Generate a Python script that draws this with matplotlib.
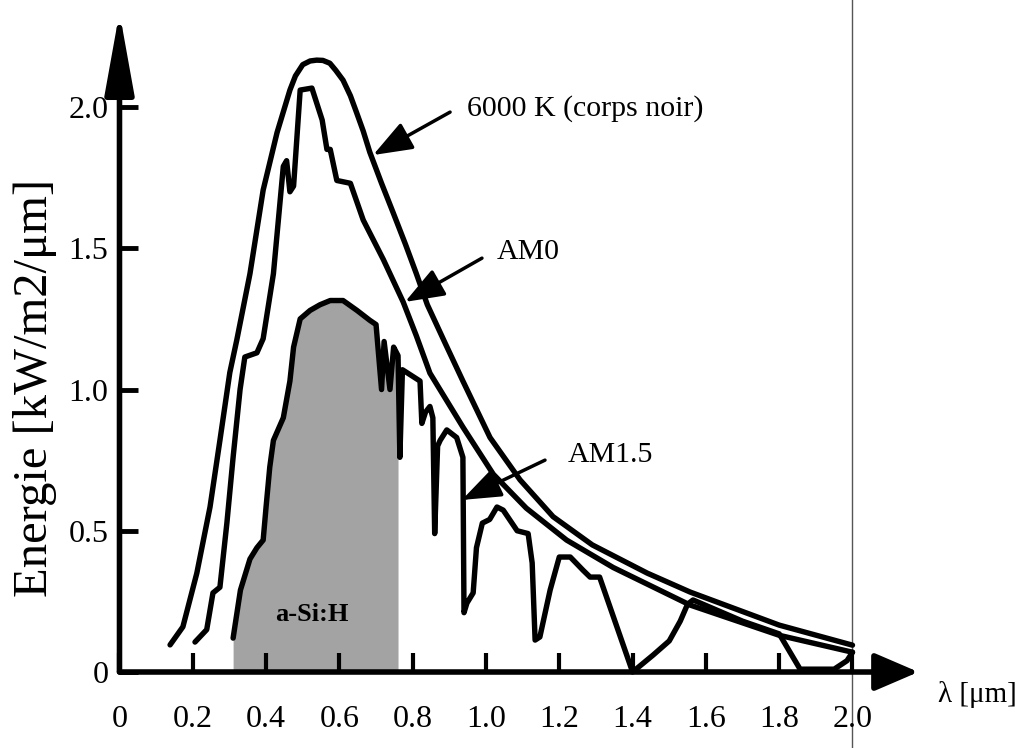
import numpy as np
import matplotlib
matplotlib.use("Agg")
import matplotlib.pyplot as plt

# wavelength [um] / energy [kW/m2/um]
wl_bb = [0.138, 0.173, 0.211, 0.247, 0.274, 0.301, 0.32, 0.356, 0.392, 0.43, 0.465, 0.48,
         0.50, 0.52, 0.538, 0.555, 0.574, 0.59, 0.61, 0.63, 0.647, 0.665, 0.683, 0.715,
         0.747, 0.78, 0.81, 0.84, 0.89, 0.937, 1.011, 1.093, 1.183, 1.29, 1.44, 1.557,
         1.80, 2.0]
e_bb = [0.096, 0.16, 0.35, 0.584, 0.82, 1.06, 1.175, 1.41, 1.706, 1.91, 2.06, 2.11,
        2.15, 2.163, 2.166, 2.165, 2.155, 2.13, 2.095, 2.04, 1.98, 1.915, 1.84, 1.73,
        1.625, 1.515, 1.41, 1.30, 1.16, 1.03, 0.83, 0.68, 0.55, 0.45, 0.35, 0.283,
        0.166, 0.095]

wl_am0 = [0.206, 0.238, 0.255, 0.274, 0.293, 0.31, 0.329, 0.342, 0.375, 0.392, 0.42, 0.447,
          0.456, 0.465, 0.475, 0.493, 0.525, 0.553, 0.566, 0.575, 0.593, 0.63, 0.665, 0.72,
          0.774, 0.81, 0.847, 0.937, 1.02, 1.11, 1.22, 1.347, 1.557, 1.80, 2.0]
e_am0 = [0.106, 0.15, 0.28, 0.30, 0.527, 0.76, 1.0, 1.115, 1.13, 1.18, 1.41, 1.79,
         1.81, 1.70, 1.72, 2.06, 2.067, 1.954, 1.85, 1.85, 1.74, 1.73, 1.60, 1.46,
         1.31, 1.19, 1.058, 0.867, 0.70, 0.58, 0.467, 0.37, 0.237, 0.13, 0.07]

wl_am15 = [0.31, 0.33, 0.356, 0.375, 0.392, 0.40, 0.41, 0.42, 0.447, 0.465, 0.475, 0.493,
           0.52, 0.547, 0.575, 0.61, 0.648, 0.683, 0.70, 0.715, 0.722, 0.738, 0.748, 0.76,
           0.765, 0.772, 0.82, 0.825, 0.835, 0.847, 0.855, 0.86, 0.868, 0.875, 0.893, 0.92,
           0.937, 0.940, 0.948, 0.965, 0.974, 0.99, 1.01, 1.03, 1.047, 1.085, 1.115, 1.126,
           1.134, 1.147, 1.175, 1.20, 1.23, 1.265, 1.284, 1.31, 1.40, 1.456, 1.50, 1.53,
           1.55, 1.565, 1.70, 1.80, 1.857, 1.95, 1.985, 2.0]
e_am15 = [0.12, 0.29, 0.40, 0.44, 0.467, 0.585, 0.725, 0.82, 0.90, 1.03, 1.15, 1.25,
          1.28, 1.30, 1.315, 1.315, 1.28, 1.245, 1.23, 1.0, 1.17, 1.0, 1.15, 1.12,
          0.76, 1.07, 1.03, 0.88, 0.92, 0.94, 0.90, 0.49, 0.80, 0.82, 0.857, 0.83,
          0.76, 0.21, 0.244, 0.28, 0.44, 0.527, 0.54, 0.584, 0.573, 0.50, 0.49, 0.386,
          0.113, 0.124, 0.29, 0.407, 0.407, 0.36, 0.336, 0.336, 0.0, 0.06, 0.11, 0.18,
          0.24, 0.255, 0.18, 0.135, 0.01, 0.01, 0.04, 0.07]

asi_lo, asi_hi = 0.30, 0.762  # a-Si:H absorption band

xticks = [0, 0.2, 0.4, 0.6, 0.8, 1.0, 1.2, 1.4, 1.6, 1.8, 2.0]
xtick_labels = ["0", "0.2", "0.4", "0.6", "0.8", "1.0", "1.2", "1.4", "1.6", "1.8", "2.0"]
yticks = [0, 0.5, 1.0, 1.5, 2.0]
ytick_labels = ["0", "0.5", "1.0", "1.5", "2.0"]

plt.rcParams["font.family"] = ["Liberation Serif", "DejaVu Serif"]

fig = plt.figure(figsize=(10.31, 7.48), dpi=100)
ax = fig.add_axes([0.1159, 0.1016, 0.8176, 0.8875])
ax.set_xlim(0, 2.3)
ax.set_ylim(0, 2.35)
for s in ax.spines.values():
    s.set_visible(False)

wl15 = np.array(wl_am15)
e15 = np.array(e_am15)
band = (wl15 >= asi_lo) & (wl15 <= asi_hi)
ax.fill_between(wl15, e15, 0, where=band, color="#a3a3a3", lw=0, zorder=1)

line_kw = dict(color="black", lw=3.9, solid_capstyle="round", solid_joinstyle="round",
               clip_on=False, zorder=3)
ax.plot(wl_bb, e_bb, **line_kw)
ax.plot(wl_am0, e_am0, **line_kw)
ax.plot(wl15, e15, **line_kw)

# axes drawn as arrows
ax.annotate("", xy=(0, 2.336), xytext=(0, 0), annotation_clip=False,
            arrowprops=dict(arrowstyle="-|>,head_length=2.5,head_width=0.45", mutation_scale=20,
                            lw=4, color="black", shrinkA=0, shrinkB=0), zorder=5)
ax.annotate("", xy=(2.18, 0), xytext=(0, 0), annotation_clip=False,
            arrowprops=dict(arrowstyle="-|>,head_length=1.35,head_width=0.58", mutation_scale=20,
                            lw=4, color="black", shrinkA=0, shrinkB=0), zorder=5)

ax.set_xticks(xticks)
ax.set_xticklabels(xtick_labels)
ax.set_yticks(yticks)
ax.set_yticklabels(ytick_labels)
ax.tick_params(axis="x", direction="in", length=14, width=3, pad=24, labelsize=23)
ax.tick_params(axis="y", direction="in", length=14, width=3.5, pad=8, labelsize=23)

# scan artefact: thin vertical line
ax.axvline(2.0, ymin=-0.12, ymax=1.02, color="#555555", lw=1, clip_on=False, zorder=0)

arr_kw = dict(arrowstyle="-|>,head_length=1.2,head_width=0.45", mutation_scale=20,
              lw=2.5, color="black", shrinkA=0, shrinkB=0)
ax.annotate("", xy=(0.692, 1.83), xytext=(0.902, 1.982), arrowprops=arr_kw, zorder=6)
ax.annotate("", xy=(0.779, 1.31), xytext=(0.989, 1.465), arrowprops=arr_kw, zorder=6)
ax.annotate("", xy=(0.934, 0.609), xytext=(1.161, 0.75), arrowprops=arr_kw, zorder=6)

ax.text(0.948, 1.996, "6000 K (corps noir)", fontsize=21.5, ha="left", va="center")
ax.text(1.030, 1.487, "AM0", fontsize=21.5, ha="left", va="center")
ax.text(1.224, 0.768, "AM1.5", fontsize=21.5, ha="left", va="center")
ax.text(0.526, 0.202, "a-Si:H", fontsize=19, fontweight="bold", ha="center", va="center", zorder=4)

ax.text(2.342, -0.081, "λ [μm]", fontsize=21, ha="center", va="center")
fig.text(0.034, 0.481, "Energie [kW/m2/μm]", fontsize=35, rotation=90, ha="center", va="center")

fig.savefig("out.png", dpi=100)
